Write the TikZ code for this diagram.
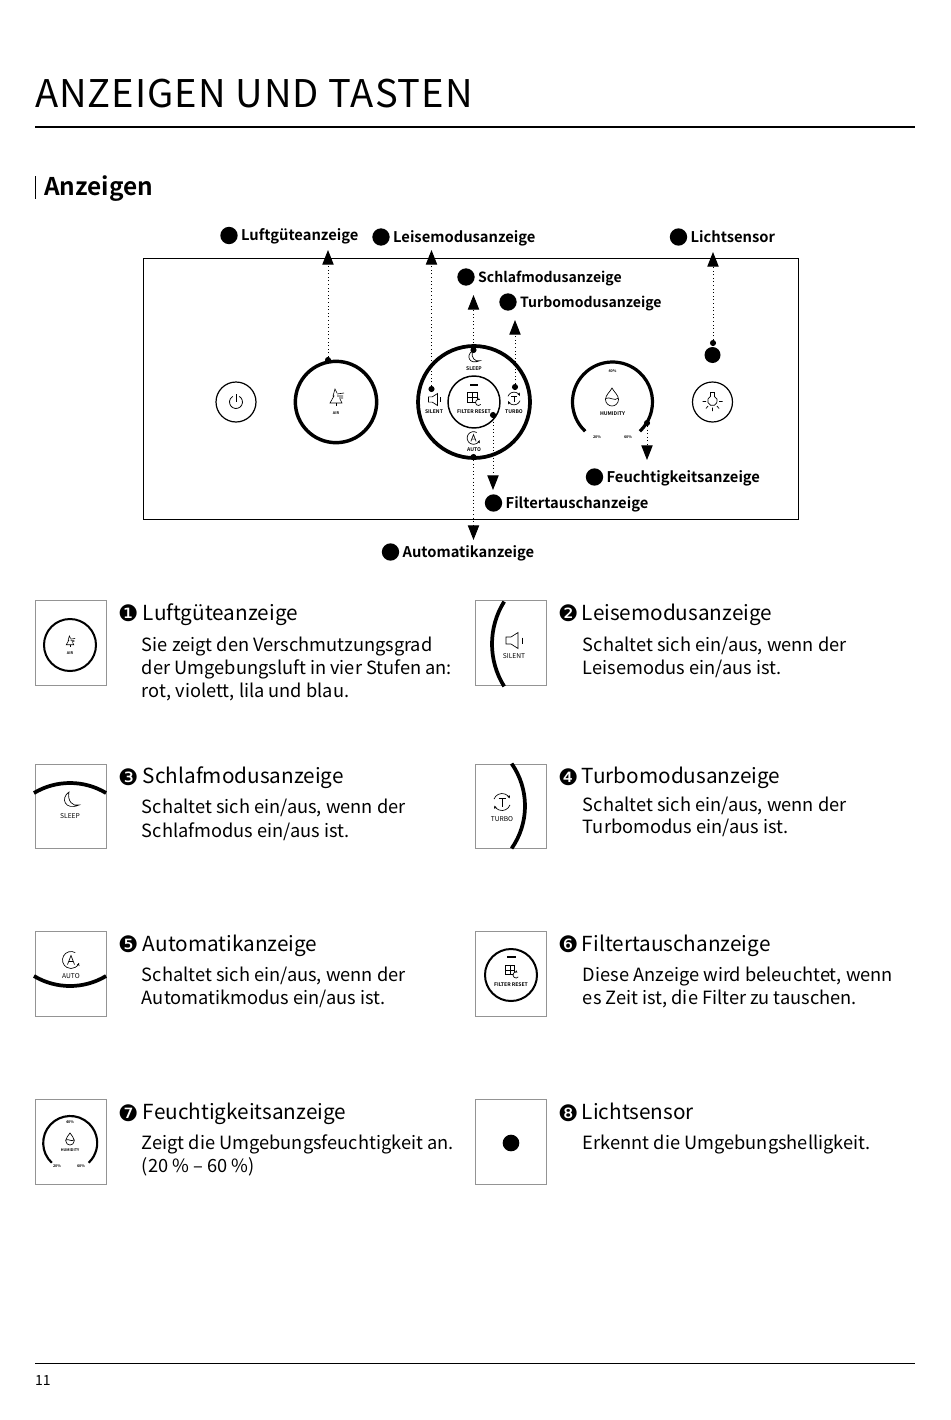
\documentclass[tikz,border=0pt]{standalone}
\usepackage{fontspec}
\setmainfont[BoldFont={Noto Sans CJK SC Bold}]{Noto Sans CJK SC}
\newfontfamily\numfont{DejaVu Sans}
\newfontfamily\spacedfont[LetterSpace=2.76]{Noto Sans CJK SC}
\usetikzlibrary{arrows.meta,positioning}

\begin{document}
\begin{tikzpicture}[
  x=0.75pt, y=-0.75pt,
  every node/.style={inner sep=0pt, outer sep=0pt},
  pagetitle/.style={anchor=base west, font=\spacedfont\fontsize{28.6}{28.6}\selectfont},
  sectitle/.style={anchor=base west, font=\fontsize{18.3}{18.3}\selectfont\bfseries},
  pagenum/.style={anchor=base west, font=\fontsize{10.5}{10.5}\selectfont},
  calldot/.style={circle, fill=black, minimum size=13pt},
  calltext/.style={font=\fontsize{11.05}{11.05}\selectfont\bfseries, text height=10.5pt, text depth=2.5pt},
  calltextsmall/.style={calltext, font=\fontsize{10.55}{10.55}\selectfont\bfseries},
  anchordot/.style={circle, fill=black, minimum size=4.6pt},
  dotarr/.style={dotted, line width=0.7pt, -{Triangle[length=11pt, width=8.5pt]}},
  panelbox/.style={draw, line width=0.65pt, minimum width=491.25pt, minimum height=195.75pt},
  ring/.style={draw, circle, line width=2.6pt},
  thinring/.style={draw, circle, line width=0.9pt, minimum size=30pt},
  tinytext/.style={font=\fontsize{3.8}{4}\selectfont\bfseries},
  smalltext/.style={font=\fontsize{5}{5}\selectfont},
  microtext/.style={font=\fontsize{2.8}{3}\selectfont\bfseries},
  cardbox/.style={draw=black!42, line width=0.7pt, minimum width=53.25pt, minimum height=63.5pt},
  cardnum/.style={font=\numfont\fontsize{17}{17}\selectfont, text height=12pt, text depth=1pt},
  cardtitle/.style={font=\fontsize{15.55}{15.55}\selectfont, text height=12pt, text depth=3.5pt},
  cardbody/.style={align=left, font=\fontsize{13.68}{17.25}\selectfont},
  powericon/.pic={
    \draw[line width=0.6pt] (-60:6.5) arc[start angle=-60, end angle=240, radius=6.5];
    \draw[line width=0.6pt] (0,-8) -- (0,0);
  },
  treeicon/.pic={
    \draw[line width=0.45pt] (1,-4) -- (-1,-8) -- (-3,-1) -- (-2,-1) -- (-6,6) -- (6,6) -- (4,2);
    \draw[line width=0.45pt] (0,6) -- (0,9);
    \draw[line width=0.45pt] (1,-3) -- (8,-4) (1,-1) -- (7,-1) (3,1) -- (7,1);
  },
  speakericon/.pic={
    \draw[line width=0.5pt] (-6,-3.5) -- (-1,-3.5) -- (6,-8) -- (6,8) -- (-1,3.5) -- (-6,3.5) -- cycle;
    \draw[line width=0.5pt] (10,-3) -- (10,3);
  },
  moonicon/.pic={
    \draw[line width=0.5pt] (-1,-8) .. controls (-10,-2) and (-5,11) .. (9,5) .. controls (3,7) and (-3,1) .. (-1,-8) -- cycle;
  },
  turboicon/.pic={
    \draw[line width=0.5pt, -{Stealth[length=2.2pt, width=2.2pt]}] (-160:8.5) arc[start angle=-160, end angle=-25, radius=8.5];
    \draw[line width=0.5pt, -{Stealth[length=2.2pt, width=2.2pt]}] (20:8.5) arc[start angle=20, end angle=155, radius=8.5];
    \draw[line width=0.5pt] (-3.5,-3.5) -- (3.5,-3.5) (0,-3.5) -- (0,4.5);
  },
  autoicon/.pic={
    \draw[line width=0.5pt, -{Stealth[length=2.2pt, width=2.2pt]}] (-60:8.5) arc[start angle=-60, end angle=-340, radius=8.5];
    \draw[line width=0.5pt] (-3.5,4.5) -- (0,-4.5) -- (3.5,4.5) (-2.2,1.5) -- (2.2,1.5);
  },
  filtericon/.pic={
    \draw[line width=0.5pt] (-4.75,-4.75) rectangle (4.75,4.75);
    \draw[line width=0.5pt] (-4.75,0) -- (4.75,0) (0,-4.75) -- (0,4.75);
    \fill[white] (3,2) rectangle (10,9);
    \draw[line width=0.5pt, -{Stealth[length=1.8pt, width=1.8pt]}] (40:3) ++(6,5) arc[start angle=40, end angle=300, radius=3];
  },
  dropicon/.pic={
    \draw[line width=0.5pt] (0,-9) .. controls (-2,-5) and (-6.5,-2) .. (-6.5,2.5) .. controls (-6.5,6.5) and (-3,9) .. (0,9) .. controls (3,9) and (6.5,6.5) .. (6.5,2.5) .. controls (6.5,-2) and (2,-5) .. (0,-9) -- cycle;
    \draw[line width=0.5pt] (-6.5,1.5) .. controls (-2,-1) and (2,5) .. (6.5,1);
  },
  bulbicon/.pic={
    \draw[line width=0.55pt] (-2,-8.5) -- (2,-8.5) -- (2,-4.5) arc[start angle=-65, end angle=245, radius=4.8] -- cycle;
    \draw[line width=0.55pt] (-10,0.5) -- (-6.5,0.5) (6.5,0.5) -- (10,0.5) (-4.5,5) -- (-6.5,7.5) (4.5,5) -- (6.5,7.5) (0,6.5) -- (0,10);
  }
]
  \useasboundingbox (0,0) rectangle (950,1420);

  % page head and foot
  \node[pagetitle] (title) at (35,107.7) {ANZEIGEN UND TASTEN};
  \draw[line width=1.5pt] (35,127) -- (915,127);
  \draw[line width=0.8pt] (35.5,176) -- (35.5,199);
  \node[sectitle] (sec) at (44,195) {Anzeigen};
  \draw[line width=0.6pt] (35,1363.5) -- (915,1363.5);
  \node[pagenum] (page) at (35,1385) {11};

  % control panel
  \node[panelbox] (panel) at (470.5,388.5) {};
  \node[thinring] (power) at (236,402) {};
  \pic at (236,402) {powericon};
  \node[ring, minimum size=61pt] (airring) at (336,402) {};
  \pic at (336,397) {treeicon};
  \node[microtext] (airlabel) at (336,413.5) {AIR};
  \node[ring, line width=2.8pt, minimum size=84pt] (modering) at (474,402) {};
  \node[draw, circle, line width=1.1pt, minimum size=39pt] (filterring) at (474,402) {};
  \fill (470,383.5) rectangle (478,385.5);
  \pic at (472.5,397.5) {filtericon};
  \node[tinytext] (filterlabel) at (474,412) {FILTER RESET};
  \pic[scale=0.75] at (473,357) {moonicon};
  \node[tinytext] (sleeplabel) at (474,369) {SLEEP};
  \pic[scale=0.75] at (433,399.5) {speakericon};
  \node[tinytext] (silentlabel) at (434,412) {SILENT};
  \pic[scale=0.75] at (514,398.5) {turboicon};
  \node[tinytext] (turbolabel) at (514,412) {TURBO};
  \pic[scale=0.75] at (473.5,438) {autoicon};
  \node[tinytext] (autolabel) at (474,450) {AUTO};
  \draw[line width=2.4pt] (612.5,402) ++(133:40) arc[start angle=133, end angle=407, radius=40];
  \node[microtext] (humtop) at (612.5,371) {40\%};
  \pic at (612,397) {dropicon};
  \node[tinytext] (humlabel) at (612.5,414) {HUMIDITY};
  \node[microtext] (humleft) at (597,437) {20\%};
  \node[microtext] (humright) at (628,437) {60\%};
  \node[thinring] (light) at (712.5,402) {};
  \pic at (712.5,401) {bulbicon};
  \node[calldot, minimum size=12pt] (sensor) at (712.5,355) {};

  % callouts
  \node[anchordot] (airdot) at (328,360) {};
  \node[anchordot] (silentdot) at (431.5,389) {};
  \node[anchordot] (sleepdot) at (473.5,350) {};
  \node[anchordot] (turbodot) at (515,387) {};
  \node[anchordot] (lightdot) at (713,343) {};
  \node[anchordot] (humdot) at (647,423) {};
  \node[anchordot] (filterdot) at (493,415) {};
  \node[anchordot] (autodot) at (473.5,457) {};
  \coordinate (airtip) at (328,250);
  \coordinate (silenttip) at (431.5,250);
  \coordinate (sleeptip) at (473.5,295);
  \coordinate (turbotip) at (515,320);
  \coordinate (lighttip) at (713,252);
  \coordinate (humtip) at (647,460);
  \coordinate (filtertip) at (493,490);
  \coordinate (autotip) at (473.5,540);
  \draw[dotarr] (airdot) -- (airtip);
  \draw[dotarr] (silentdot) -- (silenttip);
  \draw[dotarr] (sleepdot) -- (sleeptip);
  \draw[dotarr] (turbodot) -- (turbotip);
  \draw[dotarr] (lightdot) -- (lighttip);
  \draw[dotarr] (humdot) -- (humtip);
  \draw[dotarr] (filterdot) -- (filtertip);
  \draw[dotarr] (autodot) -- (autotip);

  \node[calldot] (aira) at (229,235.5) {};
  \node[calltext, right=2.6pt of aira] {Luftgüteanzeige};
  \node[calldot] (silenta) at (381,237) {};
  \node[calltext, right=2.6pt of silenta] {Leisemodusanzeige};
  \node[calldot] (sleepa) at (466,277) {};
  \node[calltextsmall, right=2.6pt of sleepa] {Schlafmodusanzeige};
  \node[calldot] (turboa) at (508,302) {};
  \node[calltextsmall, right=2.6pt of turboa] {Turbomodusanzeige};
  \node[calldot] (lighta) at (678.5,237) {};
  \node[calltext, right=2.6pt of lighta] {Lichtsensor};
  \node[calldot] (huma) at (594.5,477) {};
  \node[calltext, right=2.6pt of huma] {Feuchtigkeitsanzeige};
  \node[calldot] (filtera) at (493.5,503) {};
  \node[calltext, right=2.6pt of filtera] {Filtertauschanzeige};
  \node[calldot] (autoa) at (390.5,552) {};
  \node[calltext, right=2.6pt of autoa] {Automatikanzeige};

  % cards
  \node[cardbox] (boxa) at (70.5,643) {};
  \node[cardbox, right=276.75pt of boxa] (boxb) {};
  \node[cardbox, below=59pt of boxa] (boxc) {};
  \node[cardbox, right=276.75pt of boxc] (boxd) {};
  \node[cardbox, below=62.25pt of boxc] (boxe) {};
  \node[cardbox, right=276.75pt of boxe] (boxf) {};
  \node[cardbox, below=62.25pt of boxe] (boxg) {};
  \node[cardbox, right=276.75pt of boxg] (boxh) {};

  \node[draw, circle, line width=1.5pt, minimum size=39pt] (cairring) at (70,645) {};
  \pic[scale=0.63] at (70,641) {treeicon};
  \node[microtext] (cairlabel) at (70,653) {AIR};

  \draw[line width=2.8pt] (572,644) ++(148:80) arc[start angle=148, end angle=212, radius=80];
  \pic at (512,640.5) {speakericon};
  \node[smalltext] (csilent) at (514,656) {SILENT};

  \draw[line width=2.8pt] (70,853) ++(239:70) arc[start angle=239, end angle=301, radius=70];
  \pic at (70,800) {moonicon};
  \node[smalltext] (csleep) at (70,816) {SLEEP};

  \draw[line width=2.8pt] (451,806) ++(-35:74) arc[start angle=-35, end angle=35, radius=74];
  \pic at (502,802) {turboicon};
  \node[smalltext] (cturbo) at (502,819) {TURBO};

  \draw[line width=2.8pt] (70,916) ++(59:70) arc[start angle=59, end angle=121, radius=70];
  \pic at (71,960) {autoicon};
  \node[smalltext] (cauto) at (71,976) {AUTO};

  \node[draw, circle, line width=1.5pt, minimum size=39pt] (cfilterring) at (511,975) {};
  \fill (506.5,955.5) rectangle (515.5,957.5);
  \pic at (510,970) {filtericon};
  \node[tinytext] (cfilter) at (511,985) {FILTER RESET};

  \draw[line width=1.6pt] (70.2,1143) ++(133:27) arc[start angle=133, end angle=407, radius=27];
  \node[microtext] (chumtop) at (70,1122) {40\%};
  \pic[scale=0.67] at (70,1139) {dropicon};
  \node[microtext] (chumlabel) at (70,1150) {HUMIDITY};
  \node[microtext] (chumleft) at (57,1166) {20\%};
  \node[microtext] (chumright) at (81,1166) {60\%};

  \node[calldot, minimum size=12.5pt] (csensor) at (511,1143) {};

  % card texts
  \node[cardnum, below right=3.75pt and 9pt of boxa.north east] (numa) {\char"2776};
  \node[cardtitle, right=3.5pt of numa] (titlea) {Luftgüteanzeige};
  \node[cardbody, below right=9.5pt and -0.75pt of titlea.south west] (bodya) {Sie zeigt den Verschmutzungsgrad\\der Umgebungsluft in vier Stufen an:\\rot, violett, lila und blau.};

  \node[cardnum, below right=3.75pt and 9pt of boxb.north east] (numb) {\char"2777};
  \node[cardtitle, right=2.75pt of numb] (titleb) {Leisemodusanzeige};
  \node[cardbody, below right=9.5pt and 0.75pt of titleb.south west] (bodyb) {Schaltet sich ein/aus, wenn der\\Leisemodus ein/aus ist.};

  \node[cardnum, below right=3.75pt and 9pt of boxc.north east] (numc) {\char"2778};
  \node[cardtitle, right=3.5pt of numc] (titlec) {Schlafmodusanzeige};
  \node[cardbody, below right=8pt and -0.75pt of titlec.south west] (bodyc) {Schaltet sich ein/aus, wenn der\\[0.7pt]Schlafmodus ein/aus ist.};

  \node[cardnum, below right=3.75pt and 9pt of boxd.north east] (numd) {\char"2779};
  \node[cardtitle, right=2.75pt of numd] (titled) {Turbomodusanzeige};
  \node[cardbody, below right=6.5pt and 0.75pt of titled.south west] (bodyd) {Schaltet sich ein/aus, wenn der\\[-0.7pt]Turbomodus ein/aus ist.};

  \node[cardnum, below right=3.75pt and 9pt of boxe.north east] (nume) {\char"277A};
  \node[cardtitle, right=3.5pt of nume] (titlee) {Automatikanzeige};
  \node[cardbody, below right=8.75pt and -0.75pt of titlee.south west] (bodye) {Schaltet sich ein/aus, wenn der\\Automatikmodus ein/aus ist.};

  \node[cardnum, below right=3.75pt and 9pt of boxf.north east] (numf) {\char"277B};
  \node[cardtitle, right=2.75pt of numf] (titlef) {Filtertauschanzeige};
  \node[cardbody, below right=8.75pt and 0.75pt of titlef.south west] (bodyf) {Diese Anzeige wird beleuchtet, wenn\\es Zeit ist, die Filter zu tauschen.};

  \node[cardnum, below right=4.5pt and 9pt of boxg.north east] (numg) {\char"277C};
  \node[cardtitle, right=3.5pt of numg] (titleg) {Feuchtigkeitsanzeige};
  \node[cardbody, below right=8pt and -0.75pt of titleg.south west] (bodyg) {Zeigt die Umgebungsfeuchtigkeit an.\\(20 \% – 60 \%)};

  \node[cardnum, below right=4.5pt and 9pt of boxh.north east] (numh) {\char"277D};
  \node[cardtitle, right=2.75pt of numh] (titleh) {Lichtsensor};
  \node[cardbody, below right=8pt and 0.75pt of titleh.south west] (bodyh) {Erkennt die Umgebungshelligkeit.};
\end{tikzpicture}
\end{document}
